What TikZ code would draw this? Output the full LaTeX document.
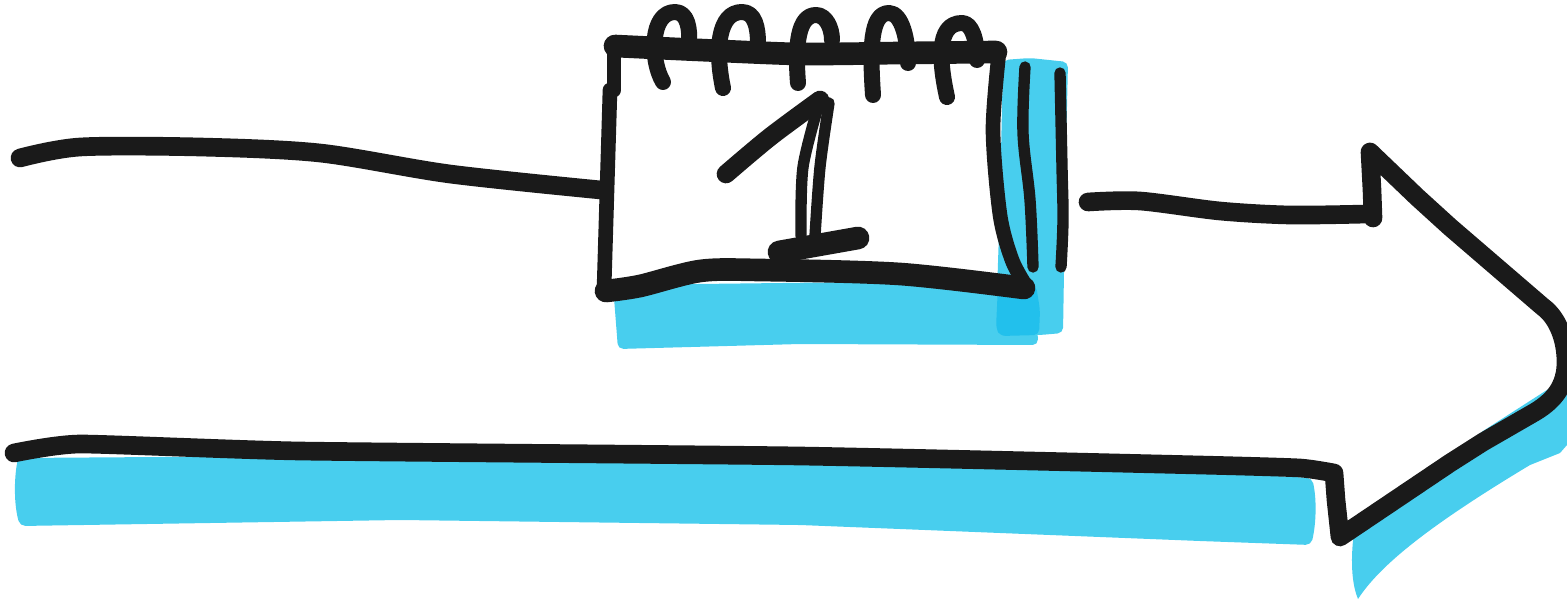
\documentclass[tikz,border=0pt]{standalone}
\definecolor{washblue}{HTML}{48CEEE}
\definecolor{washdark}{HTML}{22C0EC}
\definecolor{inkblack}{HTML}{1A1A1A}
\tikzset{every picture/.style={line width=0.75pt}}
\tikzset{inkline/.style={draw=inkblack,line width=14pt,line cap=round,line join=round}}
\tikzset{heavyink/.style={draw=inkblack,line width=17pt,line cap=round,line join=round}}
\tikzset{midink/.style={draw=inkblack,line width=11pt,line cap=round,line join=round}}
\tikzset{thinink/.style={draw=inkblack,line width=12pt,line cap=round,line join=round}}
\tikzset{hairink/.style={draw=inkblack,line width=8.5pt,line cap=round,line join=round}}
\tikzset{washfill/.style={fill=washblue,draw=none,rounded corners=4pt}}

\begin{document}
\begin{tikzpicture}[x=0.75pt,y=0.75pt,yscale=-1,xscale=1]
    \useasboundingbox (0,0) rectangle (1567,600);
    %Wash under the long line
    \fill[washfill] (18,458) -- (300,456) -- (800,462) -- (1200,472) -- (1312,478) .. controls (1317,500) and (1316,525) .. (1311,545) -- (1200,541) -- (800,525) -- (400,520) -- (20,526) .. controls (14,505) and (14,480) .. (18,458) -- cycle;
    %Wash under the arrow head
    \fill[fill=washblue] (1567,375) -- (1550,388) -- (1483,431) -- (1355,525) .. controls (1351,550) and (1350,580) .. (1358,599) .. controls (1380,565) and (1430,525) .. (1530,465) -- (1560,453) -- (1567,445) -- cycle;
    %Wash under the calendar
    \fill[washfill] (613,285) -- (1036,280) -- (1038,345) -- (800,344) -- (618,349) -- cycle;
    %Wash right of the calendar
    \fill[washfill] (1003,60) -- (1030,58) -- (1068,62) -- (1066,150) -- (1063,333) -- (1040,335) -- (1000,335) -- (996,325) -- (1000,200) -- cycle;
    %Wash overlap
    \fill[washdark,rounded corners=4pt] (998,285) -- (1036,285) -- (1040,310) -- (1039,335) -- (1000,336) -- (996,328) -- cycle;
    %Line into the calendar
    \draw[inkline] plot[smooth,tension=0.5] coordinates {(20,158) (80,147) (200,147) (320,153) (450,174) (601,190)};
    %Line out of the calendar
    \draw[inkline] plot[smooth,tension=0.5] coordinates {(1088,202) (1140,201) (1220,211) (1290,215) (1367,214)};
    %Long line and arrow head
    \draw[inkline] plot[smooth,tension=0.3] coordinates {(14,453) (80,444) (300,451) (800,456) (1200,465) (1300,468) (1334,473)} -- (1336,500) -- (1340,537) -- (1450,463) -- (1483,442) -- (1535,412) .. controls (1555,400) and (1566,385) .. (1566,362) .. controls (1566,340) and (1558,318) .. (1543,307) -- (1450,227) -- (1417,197) -- (1370,152) -- (1372,190) -- (1373,218);
    %Calendar outline
    \draw[heavyink] plot[smooth,tension=0.4] coordinates {(615,46) (700,50) (800,54) (900,53) (996,52)};
    \draw[midink] (614,45) -- (614,90);
    \draw[midink] plot[smooth,tension=0.4] coordinates {(610,90) (607,190) (604,290)};
    \draw[heavyink] plot[smooth,tension=0.5] coordinates {(606,291) (640,286) (700,271) (760,270) (900,274) (1024,288)};
    \draw[midink] plot[smooth,tension=0.5] coordinates {(999,52) (993,130) (1000,215) (1012,260) (1026,286)};
    %Rings
    \draw[thinink] (663,82) .. controls (650,60) and (650,12) .. (675,12) .. controls (688,12) and (690,30) .. (689,43);
    \draw[thinink] (723,88) .. controls (715,50) and (718,12) .. (742,12) .. controls (755,12) and (758,28) .. (758,43);
    \draw[thinink] (798,83) .. controls (795,45) and (798,15) .. (816,15) .. controls (826,15) and (832,28) .. (832,40);
    \draw[thinink] (873,95) .. controls (870,50) and (870,13) .. (889,13) .. controls (902,13) and (908,40) .. (908,63);
    \draw[thinink] (947,97) .. controls (940,65) and (935,23) .. (962,23) .. controls (972,23) and (977,40) .. (977,60);
    %Stripes on the side
    \draw[hairink] plot[smooth,tension=0.6] coordinates {(1025,67) (1023,133) (1030,200) (1033,267)};
    \draw[hairink] plot[smooth,tension=0.6] coordinates {(1060,73) (1062,167) (1063,220) (1061,267)};
    %Numeral
    \draw[inkline] plot[smooth,tension=0.5] coordinates {(726,174) (770,137) (820,100)};
    \draw[hairink] plot[smooth,tension=0.5] coordinates {(820,100) (803,167) (801,236)};
    \draw[hairink] plot[smooth,tension=0.5] coordinates {(829,103) (820,167) (815,236)};
    \draw[heavyink] (779,252) -- (858,238);
\end{tikzpicture}
\end{document}
